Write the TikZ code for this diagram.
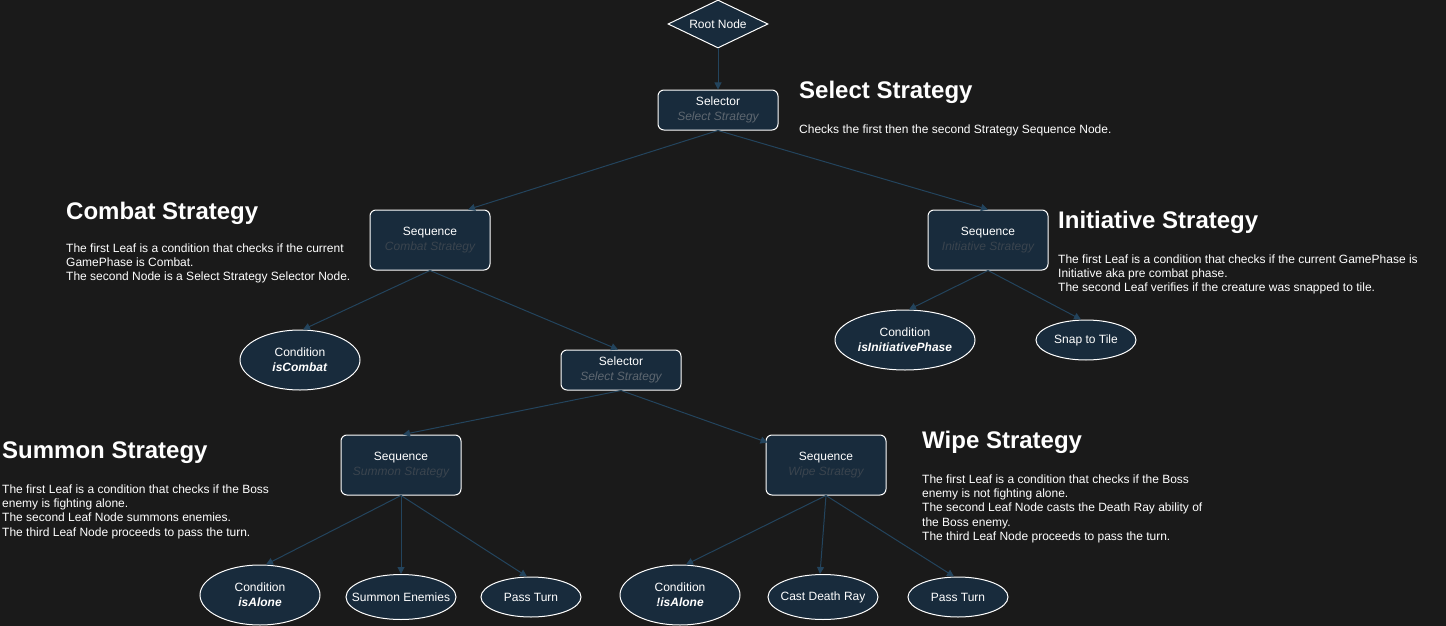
\documentclass[tikz,border=0pt]{standalone}
\usepackage{fontspec}
\setmainfont{Liberation Sans}
\usetikzlibrary{shapes.geometric,arrows.meta}
\definecolor{bg}{HTML}{1A1A1A}
\definecolor{nfill}{HTML}{182B3C}
\definecolor{edgec}{HTML}{23445D}
\definecolor{subA}{HTML}{5E6770}
\definecolor{subB}{HTML}{3A444E}
\begin{document}
\begin{tikzpicture}[x=1pt,y=-1pt,
  every node/.style={text=white,font=\fontsize{12}{15}\selectfont},
  box/.style={draw=white, fill=nfill, rounded corners=6pt, minimum width=120pt, line width=1pt, inner sep=0pt, align=center},
  leaf/.style={ellipse, draw=white, fill=nfill, line width=1pt, inner xsep=-12pt, inner ysep=0pt, align=center},
  edge/.style={draw=edgec, line width=1pt, -{Triangle[length=7pt,width=7pt]}},
  head/.style={anchor=base west, inner sep=0pt, font=\fontsize{24}{28}\selectfont\bfseries},
  desc/.style={anchor=base west, inner sep=0pt, font=\fontsize{12}{14}\selectfont}]
\useasboundingbox (0,0) rectangle (1446,626);
\fill[bg] (0,0) rectangle (1446,626);

\node[diamond, draw=white, fill=nfill, line width=1pt, aspect=2.08, minimum width=100pt, minimum height=48pt, inner sep=0pt] (root) at (718,24) {Root Node};
\node[box, minimum height=40pt] (sel) at (718,110) {Selector\\\textcolor{subA}{\itshape Select Strategy}};
\node[box, minimum height=60pt] (combat) at (430,240) {Sequence\\\textcolor{subB}{\itshape Combat Strategy}};
\node[box, minimum height=60pt] (init) at (988,240) {Sequence\\\textcolor{subB}{\itshape Initiative Strategy}};
\node[leaf, minimum width=120pt, minimum height=60pt] (iscombat) at (300,360) {Condition\\\textbf{\itshape isCombat}};
\node[box, minimum height=40pt] (sel2) at (621,370) {Selector\\\textcolor{subA}{\itshape Select Strategy}};
\node[leaf, minimum width=140pt, minimum height=60pt] (initcond) at (905,340) {Condition\\\textbf{\itshape isInitiativePhase}};
\node[leaf, minimum width=100pt, minimum height=40pt] (snap) at (1086,340) {Snap to Tile};
\node[box, minimum height=60pt] (summon) at (401,465) {Sequence\\\textcolor{subB}{\itshape Summon Strategy}};
\node[box, minimum height=60pt] (wipe) at (826,465) {Sequence\\\textcolor{subB}{\itshape Wipe Strategy}};
\node[leaf, minimum width=120pt, minimum height=60pt] (isalone) at (260,595) {Condition\\\textbf{\itshape isAlone}};
\node[leaf, minimum width=110pt, minimum height=45pt] (enemies) at (401,597) {Summon Enemies};
\node[leaf, minimum width=100pt, minimum height=40pt] (pass1) at (531,597) {Pass Turn};
\node[leaf, minimum width=120pt, minimum height=60pt] (notalone) at (680,595) {Condition\\\textbf{\itshape !isAlone}};
\node[leaf, minimum width=110pt, minimum height=45pt] (death) at (823,597) {Cast Death Ray};
\node[leaf, minimum width=100pt, minimum height=40pt] (pass2) at (958,597) {Pass Turn};

\draw[edge] (root.south) -- (sel.north);
\draw[edge] (sel.south) -- ([xshift=38pt]combat.north);
\draw[edge] (sel.south) -- (init.north);
\draw[edge] (combat.south) -- ([xshift=3pt]iscombat.north);
\draw[edge] (combat.south) -- ([xshift=-3pt]sel2.north);
\draw[edge] (init.south) -- ([xshift=4pt]initcond.north);
\draw[edge] (init.south) -- ([xshift=-5pt]snap.north);
\draw[edge] (sel2.south) -- ([xshift=2pt]summon.north);
\draw[edge] (sel2.south) -- ([xshift=2pt,yshift=-8pt]wipe.north west);
\draw[edge] (summon.south) -- ([xshift=6pt]isalone.north);
\draw[edge] (summon.south) -- (enemies.north);
\draw[edge] (summon.south) -- ([xshift=-4pt]pass1.north);
\draw[edge] (wipe.south) -- ([xshift=6pt]notalone.north);
\draw[edge] (wipe.south) -- ([xshift=-3pt]death.north);
\draw[edge] (wipe.south) -- ([xshift=-4pt]pass2.north);

\node[head] (hsel) at (799,99) {Select Strategy};
\node[desc] (dsel) at (799,133) {Checks the first then the second Strategy Sequence Node.};

\node[head] (hcombat) at (66,219) {Combat Strategy};
\node[desc] (dc1) at (66,252) {The first Leaf is a condition that checks if the current};
\node[desc] (dc2) at (66,266.4) {GamePhase is Combat.};
\node[desc] (dc3) at (66,280.8) {The second Node is a Select Strategy Selector Node.};

\node[head] (hinit) at (1058,228) {Initiative Strategy};
\node[desc] (di1) at (1058,263) {The first Leaf is a condition that checks if the current GamePhase is};
\node[desc] (di2) at (1058,277.4) {Initiative aka pre combat phase.};
\node[desc] (di3) at (1058,291.8) {The second Leaf verifies if the creature was snapped to tile.};

\node[head] (hsummon) at (2,458) {Summon Strategy};
\node[desc] (ds1) at (2,493) {The first Leaf is a condition that checks if the Boss};
\node[desc] (ds2) at (2,507.4) {enemy is fighting alone.};
\node[desc] (ds3) at (2,521.8) {The second Leaf Node summons enemies.};
\node[desc] (ds4) at (2,536.2) {The third Leaf Node proceeds to pass the turn.};

\node[head] (hwipe) at (922,448) {Wipe Strategy};
\node[desc] (dw1) at (922,483) {The first Leaf is a condition that checks if the Boss};
\node[desc] (dw2) at (922,497.4) {enemy is not fighting alone.};
\node[desc] (dw3) at (922,511.8) {The second Leaf Node casts the Death Ray ability of};
\node[desc] (dw4) at (922,526.2) {the Boss enemy.};
\node[desc] (dw5) at (922,540.6) {The third Leaf Node proceeds to pass the turn.};
\end{tikzpicture}
\end{document}
